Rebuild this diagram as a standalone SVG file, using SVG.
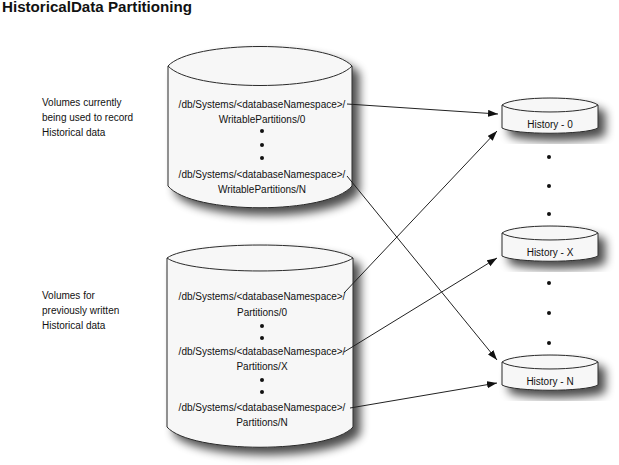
<svg xmlns="http://www.w3.org/2000/svg" width="619" height="465" viewBox="0 0 619 465">
<style>
.cyl{fill:#f7f7f7;stroke:#2a2a2a;stroke-width:1}
.t{font-family:"Liberation Sans",Arial,sans-serif;font-size:10px;fill:#111}
.c{text-anchor:middle}
.title{font-family:"Liberation Sans",Arial,sans-serif;font-size:14px;font-weight:bold;fill:#111}
.dot{fill:#111}
.conn{stroke:#222;stroke-width:1;fill:none}
</style>
<defs>
<filter id="sh" x="-20%" y="-20%" width="150%" height="150%">
<feGaussianBlur in="SourceAlpha" stdDeviation="5"/>
<feOffset dx="7" dy="7" result="b"/>
<feComponentTransfer><feFuncA type="linear" slope="0.7"/></feComponentTransfer>
<feMerge><feMergeNode/><feMergeNode in="SourceGraphic"/></feMerge>
</filter>
<marker id="ah" markerUnits="userSpaceOnUse" markerWidth="11" markerHeight="8" refX="10" refY="3.5" orient="auto">
<path d="M0,0 L10,3.5 L0,7 Z" fill="#111"/>
</marker>
</defs>
<rect width="619" height="465" fill="#fff"/>
<text class="title" x="2" y="12" textLength="190" lengthAdjust="spacingAndGlyphs">HistoricalData Partitioning</text>

<g id="label-writable">
<text class="t" x="42" y="106">Volumes currently</text>
<text class="t" x="42" y="121">being used to record</text>
<text class="t" x="42" y="136">Historical data</text>
</g>
<g id="label-previous">
<text class="t" x="42" y="299">Volumes for</text>
<text class="t" x="42" y="314">previously written</text>
<text class="t" x="42" y="329">Historical data</text>
</g>

<g id="cyl-writable">
<path class="cyl" filter="url(#sh)" d="M168,66 L168,186 C192,215 328,215 352,186 L352,66 C328,40 192,40 168,66 Z"/>
<path class="cyl" d="M168,66 C192,92 328,92 352,66"/>
<text class="t c" x="262" y="108">/db/Systems/&lt;databaseNamespace&gt;/</text>
<text class="t c" x="262" y="123">WritablePartitions/0</text>
<circle class="dot" cx="262" cy="131" r="2"/>
<circle class="dot" cx="262" cy="145" r="2"/>
<circle class="dot" cx="262" cy="158" r="2"/>
<text class="t c" x="262" y="178">/db/Systems/&lt;databaseNamespace&gt;/</text>
<text class="t c" x="262" y="193">WritablePartitions/N</text>
</g>

<g id="cyl-partitions">
<path class="cyl" filter="url(#sh)" d="M167,258 L167,427 C191,454 329,454 353,427 L353,258 C329,240.7 191,240.7 167,258 Z"/>
<path class="cyl" d="M167,258 C191,275.3 329,275.3 353,258"/>
<text class="t c" x="262" y="300">/db/Systems/&lt;databaseNamespace&gt;/</text>
<text class="t c" x="262" y="316">Partitions/0</text>
<circle class="dot" cx="262" cy="326" r="2"/>
<circle class="dot" cx="262" cy="338" r="2"/>
<text class="t c" x="262" y="355">/db/Systems/&lt;databaseNamespace&gt;/</text>
<text class="t c" x="262" y="370">Partitions/X</text>
<circle class="dot" cx="262" cy="380" r="2"/>
<circle class="dot" cx="262" cy="392" r="2"/>
<text class="t c" x="262" y="411">/db/Systems/&lt;databaseNamespace&gt;/</text>
<text class="t c" x="262" y="426">Partitions/N</text>
</g>

<g id="history-0">
<path class="cyl" filter="url(#sh)" d="M502,105 L502,128 C514,135 586,135 598,128 L598,105 C586,95.7 514,95.7 502,105 Z"/>
<path class="cyl" d="M502,105 C514,114.3 586,114.3 598,105"/>
<text class="t c" x="550" y="128">History - 0</text>
</g>
<g id="history-x">
<path class="cyl" filter="url(#sh)" d="M502,233 L502,256 C514,263 586,263 598,256 L598,233 C586,223.7 514,223.7 502,233 Z"/>
<path class="cyl" d="M502,233 C514,242.3 586,242.3 598,233"/>
<text class="t c" x="550" y="256">History - X</text>
</g>
<g id="history-n">
<path class="cyl" filter="url(#sh)" d="M502,362 L502,385 C514,392 586,392 598,385 L598,362 C586,352.7 514,352.7 502,362 Z"/>
<path class="cyl" d="M502,362 C514,371.3 586,371.3 598,362"/>
<text class="t c" x="550" y="385">History - N</text>
</g>

<g id="right-dots">
<circle class="dot" cx="549" cy="157" r="2"/>
<circle class="dot" cx="549" cy="186" r="2"/>
<circle class="dot" cx="549" cy="214" r="2"/>
<circle class="dot" cx="549" cy="283" r="2"/>
<circle class="dot" cx="549" cy="313" r="2"/>
<circle class="dot" cx="549" cy="343" r="2"/>
</g>

<g id="connectors">
<line class="conn" marker-end="url(#ah)" x1="347" y1="104" x2="498" y2="114"/>
<line class="conn" marker-end="url(#ah)" x1="347" y1="176" x2="497" y2="360"/>
<line class="conn" marker-end="url(#ah)" x1="344" y1="293" x2="497" y2="131"/>
<line class="conn" marker-end="url(#ah)" x1="344" y1="352" x2="497" y2="258"/>
<line class="conn" marker-end="url(#ah)" x1="350" y1="408" x2="497" y2="383"/>
</g>
</svg>
